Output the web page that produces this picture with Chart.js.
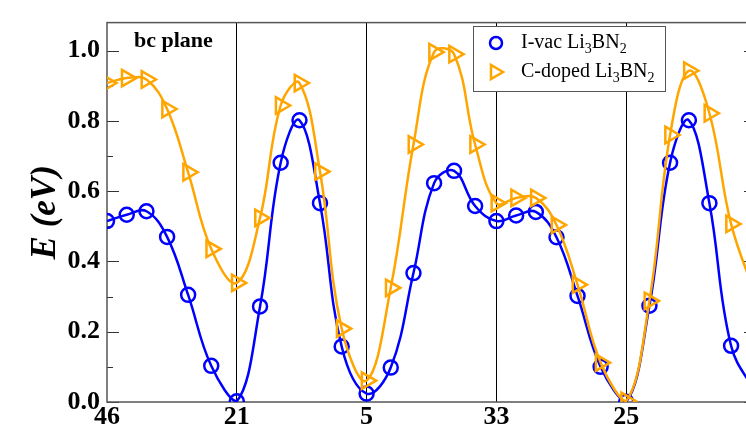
<!DOCTYPE html>
<html>
<head>
<meta charset="utf-8">
<script src="https://cdn.jsdelivr.net/npm/chart.js@4.4.1/dist/chart.umd.min.js"></script>
<style>
  html, body { margin: 0; padding: 0; background: #fff; overflow: hidden; }
  #marco { width: 746px; height: 429px; overflow: hidden; }
</style>
</head>
<body>
<div id="marco"><canvas id="grafica" width="770" height="429"></canvas></div>
<script>
// Etiquetas de los sitios a lo largo del camino de migración (el último queda fuera)
const etiquetasX = ['46', '21', '5', '33', '25', ''];

// Coordenada de reacción (1 unidad = un salto entre sitios)
const posicion = [
  0, 0.152, 0.304, 0.463, 0.625, 0.803, 1,
  1.179, 1.338, 1.483, 1.641, 1.808, 2,
  2.186, 2.361, 2.52, 2.674, 2.836, 3,
  3.152, 3.304, 3.463, 3.625, 3.803, 4,
  4.179, 4.338, 4.483, 4.641, 4.808, 5
];

// Energía relativa (eV) para cada imagen
const energiaVac = [
  0.515, 0.533, 0.543, 0.470, 0.305, 0.103, 0.002,
  0.272, 0.681, 0.802, 0.566, 0.158, 0.024,
  0.098, 0.367, 0.623, 0.658, 0.558, 0.515,
  0.531, 0.541, 0.469, 0.302, 0.100, 0.001,
  0.274, 0.681, 0.802, 0.566, 0.160, 0.024
];

const energiaDopado = [
  0.908, 0.922, 0.918, 0.834, 0.654, 0.436, 0.339,
  0.524, 0.844, 0.908, 0.656, 0.209, 0.061,
  0.325, 0.733, 0.996, 0.990, 0.733, 0.566,
  0.581, 0.581, 0.504, 0.334, 0.112, 0.003,
  0.288, 0.760, 0.943, 0.822, 0.507, 0.300
];

// Texto de la leyenda: [texto, esSubindice]
const leyendaVac = [['I-vac Li', false], ['3', true], ['BN', false], ['2', true]];
const leyendaDopado = [['C-doped Li', false], ['3', true], ['BN', false], ['2', true]];
const textoPlano = 'bc plane';

const fuente = "'Liberation Serif', 'Times New Roman', serif";
const azul = '#0000ff';
const naranja = '#ffa500';

function puntos(valores) {
  return valores.map((v, i) => ({ x: posicion[i], y: v }));
}

// Marco gris y marcas de la escala hacia dentro
const marco = {
  id: 'marco',
  beforeDatasetsDraw(chart) {
    const { ctx, chartArea: a, scales } = chart;
    ctx.save();
    ctx.strokeStyle = '#333';
    ctx.lineWidth = 1.2;
    scales.y.ticks.forEach(t => {
      const y = Math.round(scales.y.getPixelForValue(t.value)) + 0.5;
      const largo = Math.round(t.value * 10) % 2 === 0 ? 12 : 6;
      ctx.beginPath();
      ctx.moveTo(a.left, y);
      ctx.lineTo(a.left + largo, y);
      ctx.moveTo(a.right, y);
      ctx.lineTo(a.right - largo, y);
      ctx.stroke();
    });
    ctx.strokeStyle = '#555';
    ctx.lineWidth = 1.5;
    ctx.strokeRect(a.left, a.top, a.right - a.left, a.bottom - a.top);
    ctx.restore();
  },
  afterDraw(chart) {
    const ctx = chart.ctx;
    ctx.save();

    // rótulo del plano
    ctx.fillStyle = '#000';
    ctx.font = 'bold 22px ' + fuente;
    ctx.textBaseline = 'alphabetic';
    ctx.fillText(textoPlano, 134, 47);

    // caja de la leyenda
    ctx.fillStyle = '#fff';
    ctx.fillRect(473, 26, 192, 65);
    ctx.strokeStyle = '#555';
    ctx.lineWidth = 1;
    ctx.strokeRect(473.5, 26.5, 192, 65);

    const filas = [
      { partes: leyendaVac, color: azul, estilo: 'circle', base: 48, cy: 43 },
      { partes: leyendaDopado, color: naranja, estilo: 'triangle', base: 77, cy: 72 }
    ];
    filas.forEach(f => {
      ctx.strokeStyle = f.color;
      ctx.lineWidth = 2.5;
      ctx.beginPath();
      if (f.estilo === 'circle') {
        ctx.arc(496, f.cy, 6, 0, Math.PI * 2);
      } else {
        ctx.moveTo(503, f.cy);
        ctx.lineTo(491, f.cy - 7);
        ctx.lineTo(491, f.cy + 7);
        ctx.closePath();
      }
      ctx.stroke();

      let x = 521;
      ctx.fillStyle = '#000';
      f.partes.forEach(([txt, sub]) => {
        ctx.font = (sub ? '14px ' : '20px ') + fuente;
        ctx.fillText(txt, x, f.base + (sub ? 5 : 0));
        x += ctx.measureText(txt).width;
      });
    });
    ctx.restore();
  }
};

new Chart(document.getElementById('grafica'), {
  type: 'line',
  data: {
    datasets: [
      {
        label: 'I-vac Li3BN2',
        data: puntos(energiaVac),
        borderColor: azul,
        borderWidth: 2.5,
        pointStyle: 'circle',
        pointRadius: 7,
        pointBorderWidth: 2.5,
        pointBorderColor: azul,
        pointBackgroundColor: 'transparent',
        tension: 0.4,
        fill: false,
        order: 1
      },
      {
        label: 'C-doped Li3BN2',
        data: puntos(energiaDopado),
        borderColor: naranja,
        borderWidth: 2.5,
        pointStyle: 'triangle',
        pointRotation: 90,
        pointRadius: 9.5,
        pointBorderWidth: 2.5,
        pointBorderColor: naranja,
        pointBackgroundColor: 'transparent',
        tension: 0.4,
        fill: false,
        order: 0
      }
    ]
  },
  options: {
    responsive: false,
    animation: false,
    layout: { padding: { top: 13, right: 14, left: 0, bottom: 0 } },
    plugins: {
      legend: { display: false },
      tooltip: { enabled: false }
    },
    scales: {
      x: {
        type: 'linear',
        min: 0,
        max: 5,
        afterFit(scale) { scale.height = 27; },
        border: { display: false },
        grid: {
          drawTicks: false,
          lineWidth: 1,
          color: c => (c.tick && c.tick.value > 0 && c.tick.value < 5) ? '#000' : 'transparent'
        },
        ticks: {
          stepSize: 1,
          padding: 0,
          color: '#000',
          maxRotation: 0,
          font: { family: fuente, size: 26, weight: 'bold' },
          callback: v => etiquetasX[Math.round(v)]
        }
      },
      y: {
        min: 0,
        max: 1.08,
        afterFit(scale) { scale.width = 107; },
        border: { display: false },
        grid: { display: false, drawTicks: false },
        title: {
          display: true,
          text: 'E (eV)',
          color: '#000',
          font: { family: fuente, size: 35, weight: 'bold', style: 'italic' },
          padding: { top: 25, bottom: 0 }
        },
        ticks: {
          stepSize: 0.1,
          includeBounds: false,
          padding: 7,
          color: '#000',
          font: { family: fuente, size: 26, weight: 'bold' },
          callback: v => Math.round(v * 10) % 2 === 0 ? v.toFixed(1) : ''
        }
      }
    }
  },
  plugins: [marco]
});
</script>
</body>
</html>
